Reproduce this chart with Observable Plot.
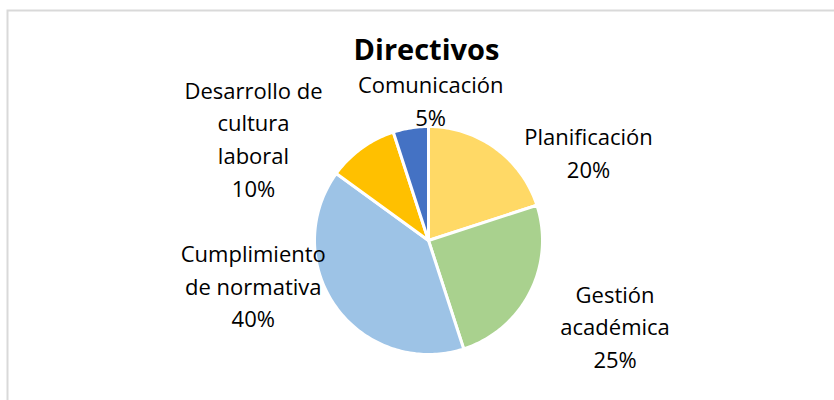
<!DOCTYPE html>
<html><head><meta charset="utf-8">
<script src="https://cdn.jsdelivr.net/npm/d3@7"></script>
<script src="https://cdn.jsdelivr.net/npm/@observablehq/plot@0.6"></script>
<style>body{margin:0;background:#fff}</style>
</head><body><div id="chart"></div>
<script>
// ---- data ----
const title = "Directivos";
const categories = ["Planificación", "Gestión académica", "Cumplimiento de normativa", "Desarrollo de cultura laboral", "Comunicación"];
const values = [20, 25, 40, 10, 5];
const labelLines = ["Planificación", "Gestión\nacadémica", "Cumplimiento\nde normativa", "Desarrollo de\ncultura\nlaboral", "Comunicación"];
const colors = ["#FFD966", "#A9D18E", "#9DC3E6", "#FFC000", "#4472C4"];

// ---- layout ----
const W = 834, H = 400, cx = 428, cy = 240, R = 114;
const labelNudge = [[93, 3], [85, 32.5], [-83, -23], [-108, -11], [20, -29]]; // px
const font = "'Segoe UI', 'Open Sans', sans-serif";

const rows = categories.map((c, i) => ({cat: c, value: values[i], label: labelLines[i] + "\n" + values[i] + "%", i}));
const arcs = d3.pie().sort(null).value(d => d.value)(rows);

// slice outlines (geometry from the pie angles)
const poly = [];
for (const a of arcs) {
  const n = Math.max(2, Math.ceil((a.endAngle - a.startAngle) / 0.02));
  poly.push({cat: a.data.cat, x: 0, y: 0});
  for (let k = 0; k <= n; k++) {
    const t = a.startAngle + (a.endAngle - a.startAngle) * k / n;
    poly.push({cat: a.data.cat, x: Math.sin(t), y: Math.cos(t)});
  }
  poly.push({cat: a.data.cat, x: 0, y: 0});
}

const labels = arcs.map(a => {
  const m = (a.startAngle + a.endAngle) / 2;
  const [nx, ny] = labelNudge[a.data.i];
  return {label: a.data.label, x: Math.sin(m) + nx / R, y: Math.cos(m) - ny / R};
});

const chart = Plot.plot({
  width: W, height: H,
  margin: 0,
  x: {domain: [-1, 1], range: [cx - R, cx + R], axis: null},
  y: {domain: [-1, 1], range: [cy + R, cy - R], axis: null},
  color: {domain: categories, range: colors},
  style: {fontFamily: font, background: "#fff"},
  marks: [
    Plot.frame({stroke: "#D9D9D9", strokeWidth: 2, insetLeft: 7, insetTop: 10, insetRight: -10, insetBottom: -10}),
    Plot.line(poly, {x: "x", y: "y", z: "cat", fill: "cat", stroke: "white", strokeWidth: 3, strokeLinejoin: "round", curve: "linear"}),
    Plot.text(labels, {x: "x", y: "y", text: "label", fontSize: 22, lineHeight: 1.48, lineAnchor: "middle", fill: "#000"}),
    Plot.text([title], {frameAnchor: "top", dx: 9, dy: 39, lineAnchor: "top", fontSize: 29, fontWeight: "bold", fill: "#000"})
  ]
});
document.getElementById("chart").appendChild(chart);
</script>
</body></html>
